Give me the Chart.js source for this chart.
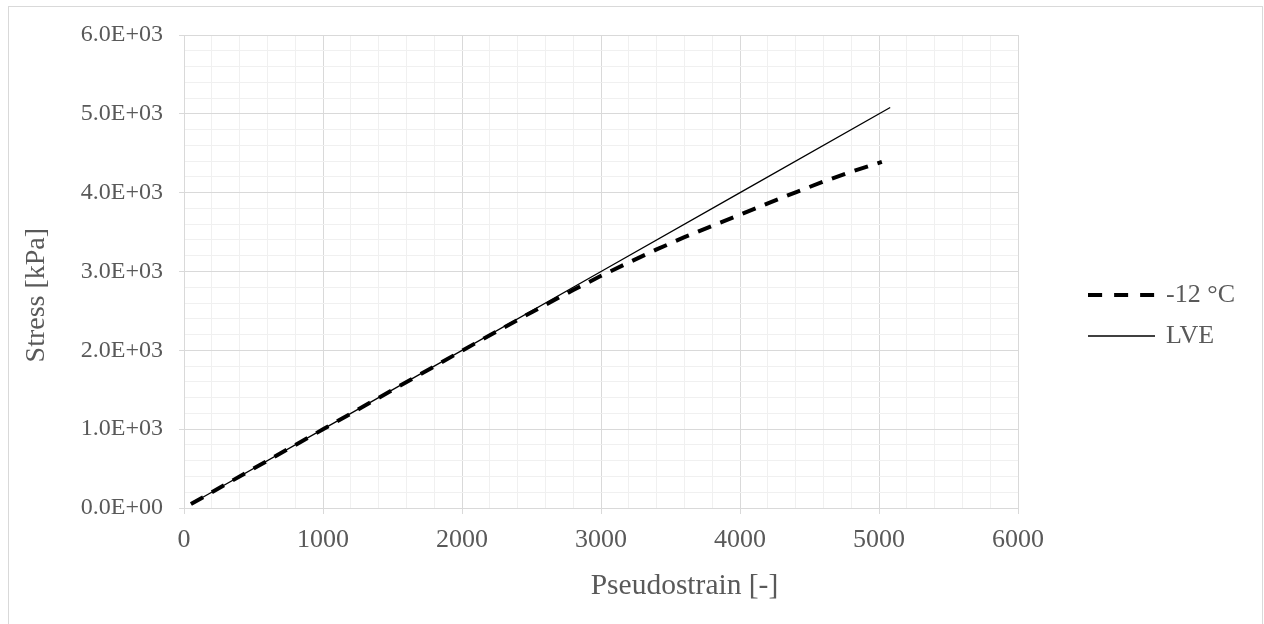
<!DOCTYPE html>
<html>
<head>
<meta charset="utf-8">
<script src="https://cdn.jsdelivr.net/npm/chart.js@4.4.1/dist/chart.umd.min.js"></script>
<style>
  html, body { margin: 0; padding: 0; background: #ffffff; }
  #wrap { position: relative; width: 1264px; height: 624px; overflow: hidden; }
  #frame { position: absolute; left: 8px; top: 6px; width: 1255px; height: 640px;
           border: 1px solid #d9d9d9; box-sizing: border-box; pointer-events: none; }
  canvas { position: absolute; left: 0; top: 0; }
</style>
</head>
<body>
<div id="wrap">
  <canvas id="chart" width="1264" height="624"></canvas>
  <div id="frame"></div>
</div>
<script>
// Measured stress response at -12 °C versus pseudostrain
const strainMeasured = [50, 500, 1000, 1500, 2000, 2200, 2400, 2600, 2800, 3000, 3200, 3400, 3600, 3800, 4000, 4200, 4400, 4600, 4800, 5020];
const stressMeasured = [50, 500, 998, 1497, 1995, 2192, 2386, 2578, 2765, 2945, 3115, 3280, 3435, 3580, 3720, 3865, 4005, 4140, 4265, 4390];

// Linear viscoelastic reference line
const strainLVE = [50, 1000, 2000, 3000, 4000, 5080];
const stressLVE = [50, 1000, 2000, 3000, 4000, 5080];

const seriesNames = ['-12 °C', 'LVE'];
const xTitle = 'Pseudostrain [-]';
const yTitle = 'Stress [kPa]';

// Axis ranges and steps (major labels every 1000, minor grid every 200)
const xRange = [0, 6000];
const yRange = [0, 6000];
const minorStep = 200;
const majorStep = 1000;

const toPoints = (xs, ys) => xs.map((x, i) => ({ x: x, y: ys[i] }));
const isMajor = v => Math.round(v) % majorStep === 0;

const serif = '"Liberation Serif", "Times New Roman", serif';
const textGrey = '#595959';
const majorGrid = '#d9d9d9';
const minorGrid = '#f0f0f0';

function sci(v) {
  const [m, e] = Number(v).toExponential(1).split('e');
  const n = parseInt(e, 10);
  return m + 'E' + (n < 0 ? '-' : '+') + String(Math.abs(n)).padStart(2, '0');
}

// Small line samples used as legend symbols
function lineSample(width, lineWidth, dash) {
  const c = document.createElement('canvas');
  c.width = width;
  c.height = 8;
  const g = c.getContext('2d');
  g.strokeStyle = '#000000';
  g.lineWidth = lineWidth;
  g.setLineDash(dash);
  g.beginPath();
  g.moveTo(0, 4);
  g.lineTo(width, 4);
  g.stroke();
  return c;
}
const legendSampleWidth = 67;
const legendBoxWidth = 63;
const dashSample = lineSample(legendSampleWidth, 4, [14, 12]);
const solidSample = lineSample(legendSampleWidth, 1.3, []);

const gridStyle = {
  color: c => (c.tick && isMajor(c.tick.value)) ? majorGrid : minorGrid,
  tickColor: c => (c.tick && isMajor(c.tick.value)) ? majorGrid : 'rgba(0,0,0,0)',
  lineWidth: 1,
  tickWidth: 1,
  drawTicks: true
};

// Axis titles, placed along the plot area
const axisTitles = {
  id: 'axisTitles',
  afterDraw(chart) {
    const { ctx, chartArea: a } = chart;
    ctx.save();
    ctx.fillStyle = textGrey;
    ctx.textAlign = 'center';
    ctx.textBaseline = 'alphabetic';
    ctx.font = '29.5px ' + serif;
    ctx.fillText(xTitle, a.left + (a.right - a.left) * 0.6, 594);
    ctx.translate(37, a.top + (a.bottom - a.top) * 0.55);
    ctx.rotate(-Math.PI / 2);
    ctx.textBaseline = 'middle';
    ctx.font = '28px ' + serif;
    ctx.fillText(yTitle, 0, 0);
    ctx.restore();
  }
};

new Chart(document.getElementById('chart'), {
  type: 'scatter',
  data: {
    datasets: [
      {
        label: seriesNames[0],
        data: toPoints(strainMeasured, stressMeasured),
        showLine: true,
        borderColor: '#000000',
        backgroundColor: '#000000',
        borderWidth: 4,
        borderDash: [14, 10],
        pointRadius: 0,
        pointStyle: dashSample,
        tension: 0
      },
      {
        label: seriesNames[1],
        data: toPoints(strainLVE, stressLVE),
        showLine: true,
        borderColor: '#000000',
        backgroundColor: '#000000',
        borderWidth: 1.3,
        pointRadius: 0,
        pointStyle: solidSample,
        tension: 0
      }
    ]
  },
  options: {
    responsive: false,
    animation: false,
    devicePixelRatio: 1,
    layout: { padding: { top: 35, left: 16, right: 19, bottom: 28 } },
    plugins: {
      tooltip: { enabled: false },
      legend: {
        position: 'right',
        align: 'center',
        labels: {
          usePointStyle: true,
          pointStyleWidth: legendBoxWidth,
          boxWidth: legendBoxWidth,
          padding: 15,
          color: textGrey,
          font: { family: serif, size: 26 }
        }
      }
    },
    scales: {
      x: {
        type: 'linear',
        min: xRange[0],
        max: xRange[1],
        grid: Object.assign({ tickLength: 6 }, gridStyle),
        border: { display: true, color: majorGrid, width: 1 },
        ticks: {
          stepSize: minorStep,
          autoSkip: false,
          maxRotation: 0,
          minRotation: 0,
          padding: 11,
          color: textGrey,
          font: { family: serif, size: 26 },
          callback: v => isMajor(v) ? String(Math.round(v)) : ''
        },
        afterFit: s => { s.height = 88; }
      },
      y: {
        type: 'linear',
        min: yRange[0],
        max: yRange[1],
        grid: Object.assign({ tickLength: 5 }, gridStyle),
        border: { display: true, color: majorGrid, width: 1 },
        ticks: {
          stepSize: minorStep,
          autoSkip: false,
          padding: 16,
          color: textGrey,
          font: { family: serif, size: 24 },
          callback: v => isMajor(v) ? sci(Math.round(v)) : ''
        },
        afterFit: s => { s.width = 168; }
      },
      gap: {
        type: 'linear',
        position: 'right',
        display: true,
        grid: { display: false, drawOnChartArea: false },
        border: { display: false },
        ticks: { display: false },
        afterFit: s => { s.width = 57; }
      }
    }
  },
  plugins: [axisTitles]
});
</script>
</body>
</html>
